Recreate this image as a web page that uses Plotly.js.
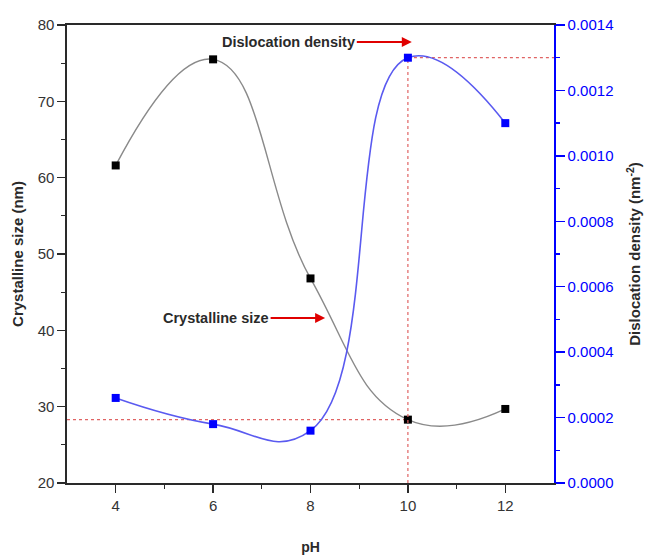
<!DOCTYPE html>
<html>
<head>
<meta charset="utf-8">
<script src="https://cdn.plot.ly/plotly-3.0.1.min.js"></script>
<style>html,body{margin:0;padding:0;background:#fff;}#chart{width:646px;height:555px;}</style>
</head>
<body>
<div id="chart"></div>
<script>
const pH = [4, 6, 8, 10, 12];
const crystallineSize = [61.6, 75.5, 46.8, 28.3, 29.7];
const dislocationDensity = [0.00026, 0.00018, 0.00016, 0.0013, 0.0011];
const xTicks = [4, 6, 8, 10, 12];
const refPH = 10;
const refSize = 28.3;
const refDensity = 0.0013;

const font = 'Arial, "Liberation Sans", sans-serif';
const ink = '#2a2a2a';
const blue = '#0000ff';
const pink = '#e06464';

const traces = [
  {x: [3, refPH], y: [refSize, refSize], type: 'scatter', mode: 'lines', line: {color: pink, width: 1.2, dash: '3px,3px'}, showlegend: false, hoverinfo: 'skip'},
  {x: [refPH, refPH], y: [0, refDensity], yaxis: 'y2', type: 'scatter', mode: 'lines', line: {color: pink, width: 1.2, dash: '3px,3px'}, showlegend: false, hoverinfo: 'skip'},
  {x: [refPH, 13], y: [refDensity, refDensity], yaxis: 'y2', type: 'scatter', mode: 'lines', line: {color: pink, width: 1.2, dash: '3px,3px'}, showlegend: false, hoverinfo: 'skip'},
  {x: pH, y: crystallineSize, type: 'scatter', mode: 'lines', line: {shape: 'spline', smoothing: 1.3, color: '#8a8a8a', width: 1.4}, hoverinfo: 'skip', showlegend: false},
  {x: pH, y: dislocationDensity, yaxis: 'y2', type: 'scatter', mode: 'lines', line: {shape: 'spline', smoothing: 1.3, color: '#5a5af0', width: 1.6}, hoverinfo: 'skip', showlegend: false},
  {x: pH, y: crystallineSize, type: 'scatter', mode: 'markers', marker: {symbol: 'square', size: 8, color: '#000'}, showlegend: false},
  {x: pH, y: dislocationDensity, yaxis: 'y2', type: 'scatter', mode: 'markers', marker: {symbol: 'square', size: 8, color: blue}, showlegend: false}
];

const layout = {
  width: 646, height: 555,
  margin: {l: 67, r: 92, t: 25, b: 72},
  paper_bgcolor: '#fff', plot_bgcolor: '#fff',
  font: {family: font, size: 15, color: ink},
  xaxis: {
    range: [3, 13], tickvals: xTicks, ticks: 'outside', ticklen: 8, tickwidth: 1.3, tickcolor: ink,
    showline: true, linecolor: ink, linewidth: 1.6, mirror: true, showgrid: false, zeroline: false,
    minor: {tickvals: [5, 7, 9, 11], ticks: 'outside', ticklen: 4, tickcolor: ink, showgrid: false},
    title: {text: '<b>pH</b>', font: {size: 14, color: ink}, standoff: 30},
    tickfont: {size: 15, color: '#333'}
  },
  yaxis: {
    range: [20, 80], dtick: 10, ticks: 'outside', ticklen: 8, tickwidth: 1.3, tickcolor: ink,
    showline: true, linecolor: ink, linewidth: 1.6, showgrid: false, zeroline: false,
    minor: {dtick: 5, ticks: 'outside', ticklen: 4, tickcolor: ink, showgrid: false},
    title: {text: '<b>Crystalline size (nm)</b>', font: {size: 15, color: ink}, standoff: 10},
    tickfont: {size: 15, color: '#333'}
  },
  yaxis2: {
    overlaying: 'y', side: 'right', range: [0, 0.0014], dtick: 0.0002, tickformat: '.4f',
    ticks: 'outside', ticklen: 9, tickwidth: 1.3, tickcolor: blue,
    showline: true, linecolor: blue, linewidth: 1.6, showgrid: false, zeroline: false,
    minor: {dtick: 0.0001, ticks: 'outside', ticklen: 4, tickcolor: blue, showgrid: false},
    title: {text: '<b>Dislocation density (nm<sup>-2</sup>)</b>', font: {size: 15, color: ink}, standoff: 17},
    tickfont: {size: 15, color: blue}
  },
  annotations: [
    {x: 10.08, y: 0.001348, xref: 'x', yref: 'y2', text: '<b>Dislocation density</b>', showarrow: true,
     ax: -123, ay: 0, arrowcolor: '#e00000', arrowwidth: 2, arrowhead: 2, arrowsize: 1, font: {size: 14.5, color: ink}},
    {x: 8.3, y: 41.6, xref: 'x', yref: 'y', text: '<b>Crystalline size</b>', showarrow: true,
     ax: -109, ay: 0, arrowcolor: '#e00000', arrowwidth: 2, arrowhead: 2, arrowsize: 1, font: {size: 14.5, color: ink}}
  ]
};

Plotly.newPlot('chart', traces, layout, {displayModeBar: false, staticPlot: true});
</script>
</body>
</html>
